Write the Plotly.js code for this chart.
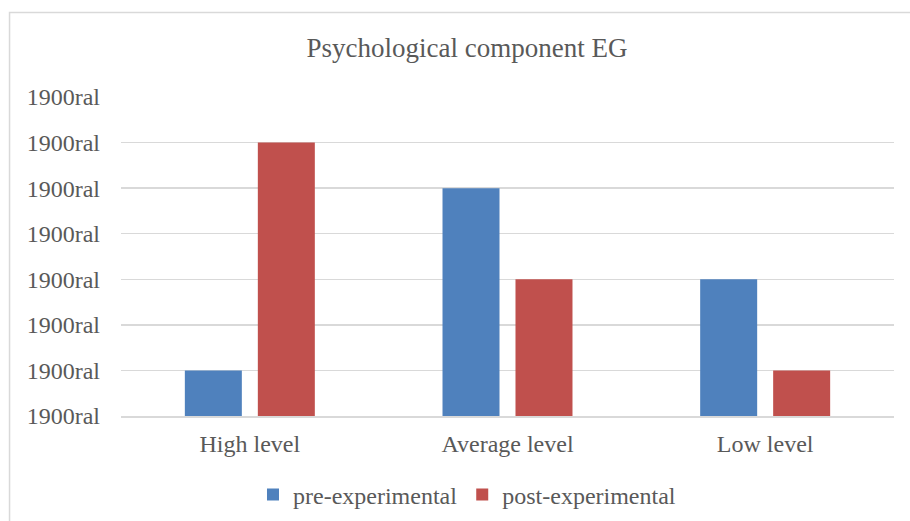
<!DOCTYPE html>
<html>
<head>
<meta charset="utf-8">
<script src="https://cdn.plot.ly/plotly-3.0.1.min.js"></script>
<style>html,body{margin:0;padding:0;background:#fff;}#chart{width:910px;height:521px;}</style>
</head>
<body>
<div id="chart"></div>
<script>
var categories = ["High level", "Average level", "Low level"];
var seriesNames = ["pre-experimental", "post-experimental"];
var preValues = [1, 5, 3];
var postValues = [6, 3, 1];
var tickValues = [0, 1, 2, 3, 4, 5, 6, 7];
var tickLabels = ["1900ral", "1900ral", "1900ral", "1900ral", "1900ral", "1900ral", "1900ral", "1900ral"];

var font = "Liberation Serif, Times New Roman, serif";
var textColor = "#595959";

var traces = [
  {type: "bar", name: seriesNames[0], x: categories, y: preValues, marker: {color: "#4F81BD"}, hoverinfo: "none"},
  {type: "bar", name: seriesNames[1], x: categories, y: postValues, marker: {color: "#C0504D"}, hoverinfo: "none"}
];

var layout = {
  width: 910, height: 521,
  margin: {l: 121, r: 16, t: 97, b: 105, autoexpand: false},
  paper_bgcolor: "#fff", plot_bgcolor: "#fff",
  font: {family: font, color: textColor, size: 24},
  title: {text: "Psychological component EG", font: {family: font, size: 27, color: textColor},
          xref: "paper", x: 0.4476, xanchor: "center", yref: "container", y: 0.908, yanchor: "middle"},
  barmode: "group", bargap: 0.4335, bargroupgap: 0.219,
  xaxis: {type: "category", showgrid: false, showline: true, linecolor: "#D9D9D9", linewidth: 1.5, automargin: false,
          ticks: "", tickfont: {family: font, size: 24, color: textColor}, ticklabelstandoff: 6, fixedrange: true},
  yaxis: {range: [0, 7], tickmode: "array", tickvals: tickValues, ticktext: tickLabels, automargin: false,
          showgrid: true, gridcolor: "#D9D9D9", gridwidth: 1.5, zeroline: false, showline: false,
          ticks: "", tickfont: {family: font, size: 24, color: textColor}, ticklabelstandoff: 20, fixedrange: true},
  legend: {orientation: "h", xref: "paper", x: 0.4476, xanchor: "center", yref: "container", y: 0.05, yanchor: "middle",
           font: {family: font, size: 24, color: textColor}, itemwidth: 30, traceorder: "normal"},
  showlegend: true,
  shapes: [{type: "rect", xref: "paper", yref: "paper", x0: -0.1442, x1: 1.04, y0: -0.4, y1: 1.2649,
            line: {color: "#D9D9D9", width: 1.5}, fillcolor: "rgba(0,0,0,0)", layer: "below"}]
};

Plotly.newPlot("chart", traces, layout, {displayModeBar: false, staticPlot: true});
</script>
</body>
</html>
